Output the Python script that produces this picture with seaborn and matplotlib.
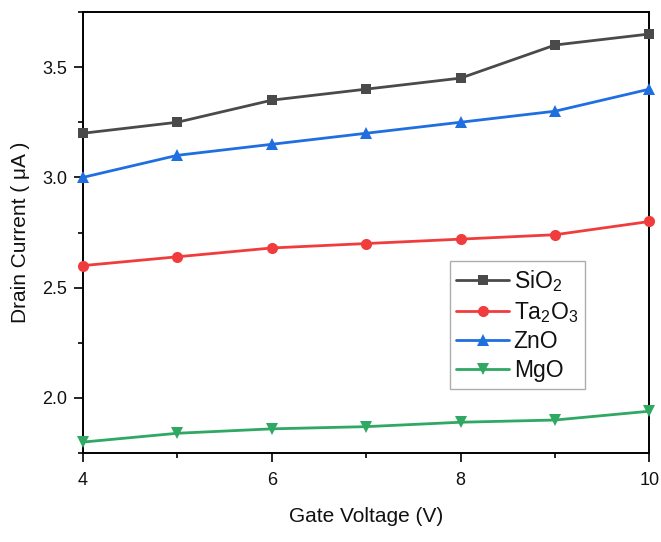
import pandas as pd
import matplotlib.pyplot as plt
import seaborn as sns
from matplotlib.ticker import MultipleLocator

# Data
gate_voltage = [4, 5, 6, 7, 8, 9, 10]
sio2 = [3.20, 3.25, 3.35, 3.40, 3.45, 3.60, 3.65]
ta2o3 = [2.60, 2.64, 2.68, 2.70, 2.72, 2.74, 2.80]
zno = [3.00, 3.10, 3.15, 3.20, 3.25, 3.30, 3.40]
mgo = [1.80, 1.84, 1.86, 1.87, 1.89, 1.90, 1.94]

labels = ['SiO$_2$', 'Ta$_2$O$_3$', 'ZnO', 'MgO']
series = [sio2, ta2o3, zno, mgo]
colors = ['#4a4a4a', '#f03c3c', '#1f6fe0', '#2ea862']
markers = ['s', 'o', '^', 'v']
msizes = [7.5, 8, 9, 9]

sns.set_theme(style="ticks")
plt.rcParams['font.family'] = ['Liberation Sans', 'DejaVu Sans']
plt.rcParams['mathtext.fontset'] = 'custom'
plt.rcParams['mathtext.rm'] = 'Liberation Sans'
plt.rcParams['mathtext.it'] = 'Liberation Sans:italic'
plt.rcParams['text.color'] = '#111111'
plt.rcParams['axes.labelcolor'] = '#111111'
plt.rcParams['xtick.labelcolor'] = '#111111'
plt.rcParams['ytick.labelcolor'] = '#111111'

fig = plt.figure(figsize=(6.61, 5.42), dpi=100)
ax = fig.add_axes([0.1256, 0.164, 0.857, 0.814])

for lab, vals, col, mk, ms in zip(labels, series, colors, markers, msizes):
    df = pd.DataFrame({'x': gate_voltage, 'y': vals})
    sns.lineplot(data=df, x='x', y='y', ax=ax, color=col, marker=mk,
                 markersize=ms, markeredgewidth=0, linewidth=2.0, label=lab,
                 clip_on=False, zorder=3)

ax.set_xlim(4, 10)
ax.set_ylim(1.75, 3.75)
ax.xaxis.set_major_locator(MultipleLocator(2))
ax.xaxis.set_minor_locator(MultipleLocator(1))
ax.yaxis.set_major_locator(MultipleLocator(0.5))
ax.yaxis.set_minor_locator(MultipleLocator(0.25))
ax.tick_params(which='both', direction='out', width=1.2, color='black',
               labelsize=13, top=False, right=False, pad=5)
ax.tick_params(which='major', length=6.5)
ax.tick_params(which='minor', length=3.5)
ax.tick_params(axis='x', which='major', pad=7)
for sp in ax.spines.values():
    sp.set_linewidth(1.4)
    sp.set_color('black')

ax.set_xlabel('Gate Voltage (V)', fontsize=15, labelpad=13)
ax.set_ylabel('Drain Current ( \u03bcA )', fontsize=15, labelpad=9)

leg = ax.legend(loc='upper left', bbox_to_anchor=(0.647, 0.435), fontsize=16.5,
                frameon=True, fancybox=False, edgecolor='#999999',
                handlelength=2.3, handletextpad=0.2, borderpad=0.3,
                labelspacing=0.25, borderaxespad=0)
leg.get_frame().set_linewidth(1.0)

fig.savefig('out.png', dpi=100)
